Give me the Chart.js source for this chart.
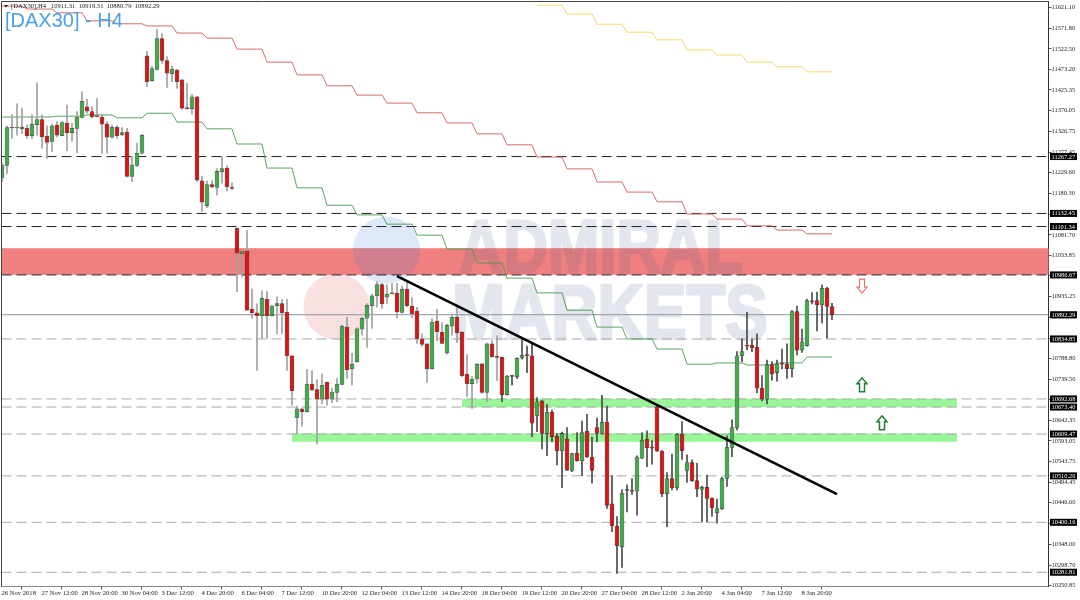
<!DOCTYPE html>
<html>
<head>
<meta charset="utf-8">
<title>DAX30 H4</title>
<script src="https://cdn.jsdelivr.net/npm/chart.js@4/dist/chart.umd.min.js"></script>
<style>
  html, body { margin: 0; padding: 0; background: #fff; }
  canvas { display: block; }
</style>
</head>
<body>
<canvas id="myChart" width="1080" height="600"></canvas>
<script>
const opens = [11216,11246,11336,11335,11333,11334,11317,11343,11355,11316,
  11303,11342,11317,11346,11324,11334,11360,11385,11374,11363,
  11361,11344,11313,11337,11319,11325,11220,11246,11275,11506,
  11447,11474,11547,11495,11464,11472,11449,11382,11381,11409,
  11210,11151,11201,11194,11231,11240,11194,11097,11037,11043,
  10905,10897,10890,10929,10890,10914,10919,10898,10795,10648,
  10669,10662,10728,10715,10692,10732,10692,10708,10727,10863,
  10764,10781,10858,10884,10914,10937,10964,10934,10943,10943,
  10898,10953,10912,10901,10835,10823,10764,10877,10851,10802,
  10865,10887,10851,10751,10729,10740,10776,10708,10823,10794,
  10791,10703,10747,10745,10790,10798,10795,10653,10688,10611,
  10661,10604,10570,10598,10523,10564,10546,10616,10555,10625,
  10610,10638,10444,10391,10342,10476,10475,10474,10552,10597,
  10577,10674,10569,10468,10504,10482,10609,10523,10542,10499,
  10478,10483,10457,10423,10432,10504,10578,10624,10795,10819,
  10820,10815,10718,10692,10774,10755,10776,10775,10764,10900,
  10808,10819,10924,10926,10916,10955,10911.31];
const highs = [11251,11340,11366,11392,11382,11342,11366,11442,11366,11340,
  11344,11350,11350,11389,11346,11374,11421,11403,11386,11405,
  11366,11350,11342,11340,11336,11334,11267,11299,11320,11516,
  11482,11569,11559,11504,11482,11474,11450,11441,11415,11410,
  11220,11210,11210,11239,11267,11245,11205,11098,11043,11092,
  10953,10918,10949,10947,10915,10935,10929,10929,10796,10676,
  10670,10763,10760,10738,10752,10733,10718,10741,10868,10886,
  10801,10862,10886,10919,10941,10971,10967,10964,10967,10967,
  10961,10971,10933,10910,10847,10824,10883,10905,10873,10870,
  10892,10911,10852,10798,10747,10777,10777,10825,10831,10842,
  10792,10748,10748,10790,10834,10818,10823,10696,10689,10680,
  10666,10611,10614,10625,10564,10613,10640,10656,10602,10648,
  10701,10676,10511,10414,10478,10489,10504,10558,10613,10617,
  10594,10676,10570,10518,10562,10611,10639,10560,10548,10540,
  10486,10512,10458,10455,10507,10605,10643,10805,10835,10898,
  10835,10847,10748,10785,10781,10785,10811,10823,10902,10913,
  10858,10929,10945,10946,10963,10957,10919.31];
const lows = [11208,11227,11310,11318,11322,11310,11310,11318,11287,11263,
  11279,11314,11316,11281,11303,11276,11358,11370,11358,11361,
  11275,11275,11310,11310,11316,11219,11208,11243,11273,11433,
  11445,11472,11488,11431,11445,11429,11379,11379,11368,11208,
  11137,11146,11193,11176,11204,11186,11188,10947,10982,10902,
  10884,10760,10836,10836,10888,10847,10848,10760,10678,10610,
  10628,10661,10712,10586,10681,10678,10684,10686,10726,10741,
  10726,10780,10844,10815,10860,10910,10907,10919,10941,10885,
  10896,10911,10886,10824,10817,10732,10763,10831,10823,10798,
  10844,10826,10745,10698,10670,10730,10706,10686,10791,10736,
  10686,10702,10726,10741,10787,10755,10603,10615,10574,10558,
  10591,10536,10482,10523,10520,10545,10511,10554,10493,10591,
  10609,10433,10378,10279,10293,10425,10466,10417,10551,10532,
  10538,10568,10461,10390,10477,10477,10549,10495,10497,10461,
  10401,10401,10414,10398,10431,10485,10556,10619,10781,10809,
  10805,10707,10688,10681,10737,10735,10764,10741,10745,10797,
  10803,10818,10918,10854,10873,10837,10880.79];
const closes = [11247,11336,11335,11335,11337,11317,11344,11355,11314,11301,
  11340,11318,11348,11324,11334,11360,11398,11375,11362,11362,
  11344,11313,11337,11317,11324,11220,11247,11275,11318,11445,
  11476,11547,11495,11465,11474,11445,11382,11381,11409,11211,
  11159,11201,11196,11232,11239,11196,11192,11038,11042,10903,
  10897,10890,10931,10890,10913,10919,10897,10795,10712,10669,
  10662,10728,10714,10692,10725,10692,10709,10728,10865,10762,
  10775,10859,10884,10915,10937,10964,10918,10941,10942,10899,
  10953,10914,10895,10835,10822,10764,10875,10852,10824,10867,
  10886,10850,10748,10729,10740,10775,10708,10823,10793,10791,
  10703,10747,10746,10789,10796,10795,10635,10686,10611,10661,
  10603,10570,10611,10524,10563,10546,10613,10555,10523,10611,
  10637,10440,10392,10345,10469,10476,10474,10555,10595,10577,
  10576,10569,10468,10504,10482,10609,10570,10542,10499,10479,
  10483,10457,10435,10433,10504,10578,10625,10795,10805,10818,
  10814,10718,10692,10774,10752,10775,10775,10764,10900,10808,
  10828,10926,10923,10916,10955,10912,10892.29];

// step lines: each level holds from segStart to segEnd (candle numbers)
const segStart = [0,5,11,17,23,29,35,41,47,53,59,65,71,77,83,89,95,101,107,113,119,125,131,137,143,149,155,161];
const segEnd = [4,10,16,22,28,34,40,46,52,58,64,70,76,82,88,94,100,106,112,118,124,130,136,142,148,154,160,166];
const redLevels = [11624,11617,11608,11589,11582,11577,11560,11548,11522,11491,11461,11435,11413,11394,
  11371,11347,11321,11295,11266,11238,11207,11183,11160,11131,11119,11103,11093,11084];
const greenLevels = [11361,11361,11363,11366,11359,11370,11349,11333,11297,11240,11193,11152,11129,11107,
  11081,11048,11015,10979,10944,10903,10863,10835,10811,10775,10778,10773,10778,10792];
const yellowLevels = [null,null,null,null,null,null,null,null,null,null,null,null,null,null,
  null,null,null,null,11626,11605,11581,11562,11544,11520,11508,11491,11480,11468];

const blackLevels = [11267.27,11132.45,11101.34,10986.67];
const lastPrice = [10892.29];
const greyLevels = [10834.85,10692.68,10673.40,10609.47,10510.26,10400.16,10281.81];

const bandFrom = [-0.1,92,58];
const bandTo = [209.3,191,191];
const bandLow = [10987,10673,10591];
const bandHigh = [11050,10693,10611];

const trendX = [79,167];
const trendY = [10984,10467];

const arrowX = [172,172,176];
const arrowY = [10960,10726,10636];
const arrowDir = ["down","up","up"];

const xTicks = [-0.1,7.9,15.9,23.9,31.9,39.9,47.9,55.9,63.9,71.9,79.9,87.9,95.9,103.9,111.9,119.9,127.9,135.9,143.9,151.9,159.9];
const xLabels = ["26 Nov 2018","27 Nov 12:00","28 Nov 20:00","30 Nov 04:00","3 Dec 12:00","4 Dec 20:00","6 Dec 04:00",
  "7 Dec 12:00","10 Dec 20:00","12 Dec 04:00","13 Dec 12:00","14 Dec 20:00","18 Dec 04:00","19 Dec 12:00",
  "20 Dec 20:00","27 Dec 04:00","28 Dec 12:00","2 Jan 20:00","4 Jan 04:00","7 Jan 12:00","8 Jan 20:00"];
const yTicks = [11621.10,11571.80,11522.50,11473.20,11425.35,11376.05,11326.75,11277.45,11229.60,11180.30,11131.00,
  11081.70,11033.85,10984.55,10935.25,10885.95,10836.65,10788.80,10739.50,10690.20,10642.35,10593.05,10543.75,
  10494.45,10446.60,10397.30,10348.00,10298.70,10250.85];

const FONT = "Liberation Serif";

function stepPoints(levels) {
  return levels.flatMap((v, s) =>
    v === null ? [] : [{ x: segStart[s], y: v }, { x: segEnd[s], y: v }],
  );
}

function levelDataset(price, color, dash, order) {
  return {
    type: "line",
    data: [{ x: -0.1, y: price }, { x: 209.3, y: price }],
    borderColor: color,
    borderWidth: 1,
    borderDash: dash,
    pointRadius: 0,
    order: order,
  };
}

function stepDataset(levels, color) {
  return {
    type: "line",
    data: stepPoints(levels),
    borderColor: color,
    borderWidth: 0.9,
    pointRadius: 0,
    order: 3,
  };
}

// watermark text goes on its own layer so fill and stroke share one alpha
function watermarkLayer() {
  const layer = document.createElement("canvas");
  layer.width = 1080;
  layer.height = 600;
  const g = layer.getContext("2d");
  g.fillStyle = "rgb(70,90,140)";
  g.strokeStyle = "rgb(70,90,140)";
  g.lineWidth = 3;
  g.lineJoin = "miter";
  g.font = "bold 75px 'Liberation Sans'";
  g.fillText("ADMIRAL", 459, 272, 284);
  g.strokeText("ADMIRAL", 459, 272, 284);
  g.font = "bold 78px 'Liberation Sans'";
  g.fillText("MARKETS", 452, 339, 316);
  g.strokeText("MARKETS", 452, 339, 316);
  return layer;
}

// bands and the watermark sit under the candles
const backgroundPlugin = {
  id: "background",
  beforeDatasetsDraw(chart) {
    const { ctx, scales: { x, y } } = chart;
    const bandColors = ["#f08080", "#98f598", "#98f598"];
    ctx.save();
    bandFrom.forEach((from, i) => {
      ctx.fillStyle = bandColors[i];
      ctx.fillRect(
        x.getPixelForValue(from),
        y.getPixelForValue(bandHigh[i]),
        x.getPixelForValue(bandTo[i]) - x.getPixelForValue(from),
        y.getPixelForValue(bandLow[i]) - y.getPixelForValue(bandHigh[i]),
      );
    });
    ctx.fillStyle = "rgba(60,120,220,0.17)";
    ctx.beginPath();
    ctx.arc(386.5, 250, 33.5, 0, Math.PI * 2);
    ctx.fill();
    ctx.fillStyle = "rgba(220,60,70,0.16)";
    ctx.beginPath();
    ctx.arc(336.5, 306.5, 33, 0, Math.PI * 2);
    ctx.fill();
    ctx.globalAlpha = 0.15;
    ctx.drawImage(watermarkLayer(), 0, 0);
    ctx.restore();
  },
};

const overlayPlugin = {
  id: "overlay",
  afterDraw(chart) {
    const { ctx, chartArea: area, scales: { x, y } } = chart;
    ctx.save();

    // frame
    ctx.strokeStyle = "#444";
    ctx.lineWidth = 1;
    ctx.beginPath();
    ctx.moveTo(area.left, area.bottom);
    ctx.lineTo(area.left, area.top);
    ctx.lineTo(area.right, area.top);
    ctx.stroke();

    // arrows
    arrowX.forEach((ax, i) => {
      const px = x.getPixelForValue(ax);
      const py = y.getPixelForValue(arrowY[i]);
      const d = arrowDir[i] === "up" ? 1 : -1;
      ctx.strokeStyle = d > 0 ? "#1f7f30" : "#e87070";
      ctx.lineWidth = d > 0 ? 1.5 : 1.1;
      ctx.fillStyle = "#fff";
      ctx.beginPath();
      ctx.moveTo(px, py - 7 * d);
      ctx.lineTo(px + 5, py - 1 * d);
      ctx.lineTo(px + 2.5, py - 1 * d);
      ctx.lineTo(px + 2.5, py + 7 * d);
      ctx.lineTo(px - 2.5, py + 7 * d);
      ctx.lineTo(px - 2.5, py - 1 * d);
      ctx.lineTo(px - 5, py - 1 * d);
      ctx.closePath();
      ctx.fill();
      ctx.stroke();
    });

    // price labels on the axis
    ctx.font = `6.4px '${FONT}'`;
    ctx.textBaseline = "middle";
    ctx.textAlign = "left";
    [...blackLevels, ...lastPrice, ...greyLevels].forEach((price) => {
      const py = y.getPixelForValue(price);
      ctx.fillStyle = "#000";
      ctx.fillRect(1050, py - 3.5, 27, 7);
      ctx.fillStyle = "#fff";
      ctx.fillText(price.toFixed(2), 1051.5, py + 0.3);
    });

    // header
    ctx.fillStyle = "#222";
    ctx.font = `6.6px '${FONT}'`;
    ctx.fillText("[DAX30],H4   10911.31  10919.31  10880.79  10892.29", 11, 6.5);
    ctx.beginPath();
    ctx.moveTo(4, 5);
    ctx.lineTo(8, 5);
    ctx.lineTo(6, 7.5);
    ctx.closePath();
    ctx.fill();
    ctx.fillStyle = "#4a9fe8";
    ctx.font = "20px 'Liberation Sans'";
    ctx.textBaseline = "alphabetic";
    ctx.fillText("[DAX30] - H4", 5, 27);
    ctx.restore();
  },
};

const ctx = document.getElementById("myChart");
new Chart(ctx, {
  type: "bar",
  data: {
    datasets: [
      {
        type: "line",
        data: trendX.map((v, i) => ({ x: v, y: trendY[i] })),
        borderColor: "#000",
        borderWidth: 2.6,
        pointRadius: 0,
        order: 0,
      },
      {
        data: opens.map((o, i) => ({ x: i, y: [o, closes[i]] })),
        backgroundColor: (c) => (closes[c.dataIndex] >= opens[c.dataIndex] ? "#45a84e" : "#d01a1a"),
        borderColor: "rgba(30,30,30,0.7)",
        borderWidth: 0.6,
        borderSkipped: false,
        barThickness: 4,
        minBarLength: 1,
        grouped: false,
        order: 1,
      },
      {
        data: lows.map((l, i) => ({ x: i, y: [l, highs[i]] })),
        backgroundColor: (c) => (c.dataIndex < 100 ? "#a0a0a0" : "#4a4a4a"),
        borderWidth: 0,
        barThickness: 1,
        grouped: false,
        order: 2,
      },
      stepDataset(redLevels, "#cf5c5c"),
      stepDataset(greenLevels, "#4b9650"),
      stepDataset(yellowLevels, "#f0d560"),
      ...blackLevels.map((p) => levelDataset(p, "#222", [10, 5], 4)),
      ...lastPrice.map((p) => levelDataset(p, "#8a93a0", [], 4)),
      ...greyLevels.map((p) => levelDataset(p, "#a8a8a8", [10, 5], 4)),
    ],
  },
  options: {
    responsive: false,
    animation: false,
    layout: { padding: { left: 1.5, top: 1.5, right: 0, bottom: 0 } },
    plugins: { legend: { display: false }, tooltip: { enabled: false } },
    scales: {
      x: {
        type: "linear",
        min: -0.1,
        max: 209.3,
        offset: false,
        grid: { drawOnChartArea: false, tickLength: 3, color: "#555" },
        border: { color: "#888" },
        afterBuildTicks: (scale) => {
          scale.ticks = xTicks.map((v) => ({ value: v }));
        },
        afterFit: (scale) => {
          scale.height = 13.5;
          scale.paddingLeft = 0;
          scale.paddingRight = 0;
        },
        ticks: {
          autoSkip: false,
          maxRotation: 0,
          align: "start",
          padding: 0,
          color: "#222",
          font: { family: FONT, size: 6.6 },
          callback: (value, index) => xLabels[index],
        },
      },
      y: {
        type: "linear",
        position: "right",
        min: 10248,
        max: 11634.85,
        grid: { drawOnChartArea: false, tickLength: 3, color: "#555" },
        border: { color: "#333" },
        afterBuildTicks: (scale) => {
          scale.ticks = yTicks.map((v) => ({ value: v }));
        },
        afterFit: (scale) => {
          scale.width = 31.5;
          scale.paddingTop = 0;
          scale.paddingBottom = 0;
        },
        ticks: {
          autoSkip: false,
          padding: 0,
          color: "#222",
          font: { family: FONT, size: 6.4 },
          callback: (value) => value.toFixed(2),
        },
      },
    },
  },
  plugins: [backgroundPlugin, overlayPlugin],
});
</script>
</body>
</html>
